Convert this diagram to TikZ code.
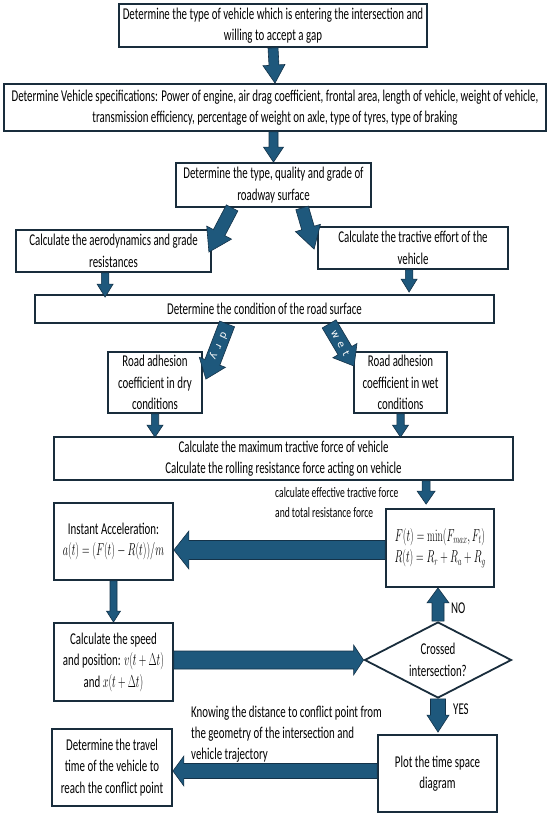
\documentclass[tikz,border=0pt]{standalone}
\usepackage[no-math]{fontspec}
\usepackage{graphicx}
\setmainfont{Carlito}[FakeStretch=0.66]
\newfontfamily\arrowfont{DejaVu Sans}
\usetikzlibrary{calc,shapes.geometric}
\definecolor{arrfill}{RGB}{30,88,124}
\definecolor{arredge}{RGB}{20,50,72}
\definecolor{boxedge}{RGB}{25,45,60}
\newcommand\mth[1]{{\fontsize{16.5}{20}\selectfont\scalebox{0.6}[1]{$#1$}}}
% block arrow: start, end, shaft half width, head half width, head length
\newcommand\blockarrow[5]{%
  \coordinate (baA) at (#1);
  \coordinate (baB) at (#2);
  \coordinate (baH) at ($(baB)!#5!(baA)$);
  \filldraw[blockarr] ($(baA)!#3!90:(baB)$) -- ($(baH)!#3!90:(baB)$) -- ($(baH)!#4!90:(baB)$)
    -- (baB) -- ($(baH)!#4!-90:(baB)$) -- ($(baH)!#3!-90:(baB)$) -- ($(baA)!#3!-90:(baB)$) -- cycle;
}
\tikzset{
  blockarr/.style={draw=arredge, fill=arrfill, line width=0.6pt, line join=miter},
  box/.style={draw=boxedge, line width=1.8pt, align=center, inner sep=1pt,
    font=\fontsize{16.5}{21.5}\selectfont, text=black},
  lbl/.style={align=left, inner sep=0pt, font=\fontsize{16.5}{21}\selectfont},
  arrtxt/.style={text=white, inner sep=0pt, font=\arrowfont\fontsize{10}{10}\selectfont},
}
\begin{document}
\begin{tikzpicture}[x=1pt,y=-1pt]
\fill[white] (0,0) rectangle (550,816);
\useasboundingbox (0,0) rectangle (550,816);

\node[box, minimum width=308, minimum height=43] (b1) at (273,25.5)
  {Determine the type of vehicle which is entering the intersection and\\willing to accept a gap};
\node[box, minimum width=542, minimum height=47] (b2) at (275,107.5)
  {Determine Vehicle specifications: Power of engine, air drag coefficient, frontal area, length of vehicle, weight of vehicle,\\transmission efficiency, percentage of weight on axle, type of tyres, type of braking};
\node[box, minimum width=195, minimum height=44] (b3) at (273.5,185)
  {Determine the type, quality and grade of\\roadway surface};
\node[box, minimum width=195, minimum height=42] (b4) at (113.5,251)
  {Calculate the aerodynamics and grade\\resistances};
\node[box, minimum width=190, minimum height=42] (b5) at (413,248)
  {Calculate the tractive effort of the\\vehicle};
\node[box, minimum width=459, minimum height=28] (b6) at (264.5,309)
  {Determine the condition of the road surface};
\node[box, minimum width=94, minimum height=61] (dry) at (155,382.5)
  {Road adhesion\\coefficient in dry\\conditions};
\node[box, minimum width=93, minimum height=61] (wet) at (400.5,382.5)
  {Road adhesion\\coefficient in wet\\conditions};
\node[box, minimum width=459, minimum height=43] (b7) at (283.5,458.5)
  {Calculate the maximum tractive force of vehicle\\Calculate the rolling resistance force acting on vehicle};
\node[lbl, anchor=west, font=\fontsize{14.5}{20}\selectfont] (eff) at (275,503)
  {calculate effective tractive force\\and total resistance force};
\node[box, minimum width=108, minimum height=78] (fb) at (440,548)
  {\mth{F(t) = \min(F_{max}, F_t)}\\\mth{R(t) = R_r + R_a + R_g}};
\node[box, minimum width=119, minimum height=77] (acc) at (113.5,541.5)
  {Instant Acceleration:\\\mth{a(t) = (F(t) - R(t))/m}};
\node[box, minimum width=119, minimum height=78] (spd) at (113.5,662)
  {Calculate the speed\\and position: \mth{v(t+\Delta t)}\\and \mth{x(t+\Delta t)}};
\node[box, diamond, aspect=1.9, inner sep=0pt, minimum width=147, minimum height=76] (dia) at (438,660)
  {Crossed\\intersection?};
\node[box, minimum width=119, minimum height=77] (plot) at (437.5,773.5)
  {Plot the time space\\diagram};
\node[box, minimum width=120, minimum height=77] (trav) at (112,767.5)
  {Determine the travel\\time of the vehicle to\\reach the conflict point};
\node[lbl, anchor=west] (know) at (191,734)
  {Knowing the distance to conflict point from\\the geometry of the intersection and\\vehicle trajectory};

% connectors
\blockarrow{b1.south}{b2.north}{5pt}{11pt}{18pt}
\blockarrow{b2.south -| b3.north}{b3.north}{4.5pt}{10pt}{15pt}
\coordinate (d1s) at ($(b3.south west)+(57,0)$);
\coordinate (d1e) at ($(b4.north east)+(-3,23)$);
\blockarrow{d1s}{d1e}{6.5pt}{14pt}{22pt}
\coordinate (d2s) at ($(b3.south west)+(127,0)$);
\coordinate (d2e) at ($(b5.north west)+(-3,23)$);
\blockarrow{d2s}{d2e}{6.5pt}{13pt}{22pt}
\coordinate (a4s) at ($(b4.south west)+(90,0)$);
\blockarrow{a4s}{$(a4s |- b6.north)+(0,3)$}{3.7pt}{8pt}{13pt}
\coordinate (a5s) at ($(b5.south west)+(92,0)$);
\blockarrow{a5s}{$(a5s |- b6.north)+(0,-2)$}{3.7pt}{8pt}{13pt}
\coordinate (drs) at ($(b6.south west)+(193,0)$);
\coordinate (dre) at ($(dry.north east)+(3,28)$);
\blockarrow{drs}{dre}{8pt}{14pt}{18pt}
\coordinate (wts) at ($(b6.south west)+(295,0)$);
\coordinate (wte) at ($(wet.north west)+(1,15)$);
\blockarrow{wts}{wte}{8pt}{14pt}{18pt}
\node[arrtxt, rotate=-115] (drytxt) at ($(drs)!0.40!(dre)$) {d\hspace{6pt}r\hspace{6pt}y};
\node[arrtxt, rotate=-62] (wettxt) at ($(wts)!0.45!(wte)$) {w\hspace{5pt}e\hspace{5pt}t};
\blockarrow{dry.south}{$(dry.south |- b7.north)+(0,1)$}{3.7pt}{8pt}{12pt}
\blockarrow{wet.south}{$(wet.south |- b7.north)+(0,1)$}{3.7pt}{8pt}{12pt}
\coordinate (a7s) at ($(b7.south west)+(373,0)$);
\blockarrow{a7s}{$(a7s |- fb.north)+(0,-4)$}{4pt}{9pt}{13pt}
\blockarrow{$(fb.west)+(0,2)$}{$(fb.west -| acc.east)+(0,2)$}{9.5pt}{19pt}{15pt}
\blockarrow{acc.south}{spd.north}{3.5pt}{7pt}{11pt}
\blockarrow{spd.east |- dia.west}{dia.west}{9pt}{15pt}{10pt}
\blockarrow{dia.north}{dia.north |- fb.south}{6pt}{11pt}{15pt}
\blockarrow{dia.south}{$(dia.south |- plot.north)+(0,-2)$}{7.5pt}{11pt}{17pt}
\blockarrow{$(plot.west)+(0,-2.5)$}{$(plot.west -| trav.east)+(0,-2.5)$}{7.5pt}{15pt}{11pt}
\node[lbl, anchor=west] (no) at ($(dia.north)+(13,-13)$) {NO};
\node[lbl, anchor=west] (yes) at ($(dia.south)+(15,10)$) {YES};
\end{tikzpicture}
\end{document}
